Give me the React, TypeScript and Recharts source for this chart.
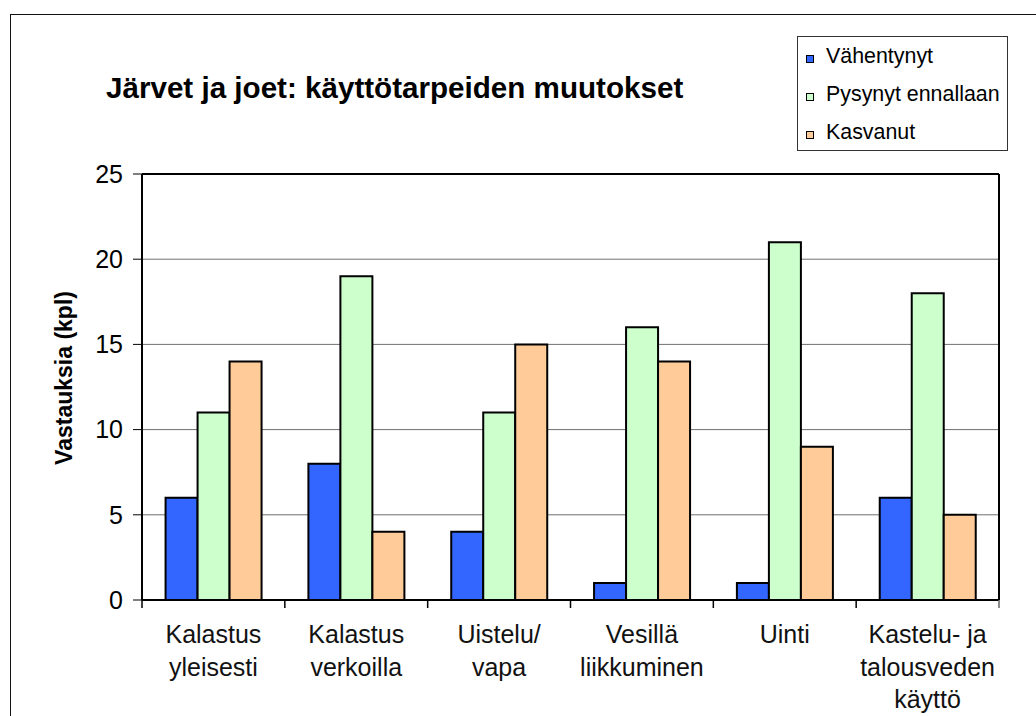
import React from 'react';
import { BarChart, Bar, XAxis, YAxis, CartesianGrid, ReferenceLine } from 'recharts';

const categories = [
  'Kalastus\nyleisesti',
  'Kalastus\nverkoilla',
  'Uistelu/\nvapa',
  'Vesillä\nliikkuminen',
  'Uinti',
  'Kastelu- ja\ntalousveden\nkäyttö',
];
const vahentynyt = [6, 8, 4, 1, 1, 6];
const pysynyt = [11, 19, 11, 16, 21, 18];
const kasvanut = [14, 4, 15, 14, 9, 5];
const yTicks = [0, 5, 10, 15, 20, 25];
const seriesNames = ['Vähentynyt', 'Pysynyt ennallaan', 'Kasvanut'];
const seriesColors = ['#3366FF', '#CCFFCC', '#FFCC99'];
const title = 'Järvet ja joet: käyttötarpeiden muutokset';
const yLabel = 'Vastauksia (kpl)';

const data = categories.map((c, i) => ({
  name: c,
  v: vahentynyt[i],
  p: pysynyt[i],
  k: kasvanut[i],
}));

const FONT = '"Liberation Sans", Arial, sans-serif';

const CategoryTick = (props: any) => {
  const { x, y, payload, index } = props;
  const off = payload.offset || 0;
  const lines = String(payload.value).split('\n');
  return (
    <g>
      <line x1={x - off} x2={x - off} y1={y} y2={y + 8} stroke="#000" strokeWidth={1.5} />
      {index === categories.length - 1 && (
        <line x1={x + off} x2={x + off} y1={y} y2={y + 8} stroke="#666" strokeWidth={1.5} />
      )}
      <text x={x} y={y + 43} textAnchor="middle" fontSize={25} fontFamily={FONT} fill="#111">
        {lines.map((l, i) => (
          <tspan key={i} x={x} dy={i === 0 ? 0 : 32.5}>
            {l}
          </tspan>
        ))}
      </text>
    </g>
  );
};

const YLabel = () => (
  <text
    x={72}
    y={378}
    transform="rotate(-90, 72, 378)"
    textAnchor="middle"
    fontSize={23}
    fontWeight="bold"
    fontFamily={FONT}
    fill="#000"
  >
    {yLabel}
  </text>
);

export default function App() {
  return (
    <div style={{ position: 'absolute', left: 0, top: 0, width: 1036, height: 716, background: '#fff', fontFamily: FONT, overflow: 'hidden' }}>
      <div style={{ position: 'absolute', left: 10, top: 14, width: 1040, height: 720, borderLeft: '1.5px solid #111', borderTop: '1.5px solid #111' }} />
      <div style={{ position: 'absolute', left: 106, top: 73, fontSize: 29.6, lineHeight: '30px', fontWeight: 'bold', color: '#000', whiteSpace: 'nowrap' }}>
        {title}
      </div>
      <div style={{ position: 'absolute', left: 797, top: 36, width: 209, height: 113, border: '1px solid #333', background: '#fff' }}>
        {seriesNames.map((n, i) => (
          <div key={n} style={{ position: 'absolute', left: 0, top: 7 + i * 38, height: 24, whiteSpace: 'nowrap' }}>
            <div style={{ position: 'absolute', left: 8, top: 11, width: 6, height: 6, background: seriesColors[i], border: '1px solid #000' }} />
            <span style={{ position: 'absolute', left: 28, top: 0, fontSize: 21.4, lineHeight: '24px', color: '#000' }}>{n}</span>
          </div>
        ))}
      </div>
      <div style={{ position: 'absolute', left: 0, top: 0 }}>
        <BarChart
          width={1036}
          height={716}
          data={data}
          margin={{ top: 174, right: 36, bottom: 16, left: 10 }}
          barCategoryGap="16.5%"
          barGap={0}
        >
          <CartesianGrid vertical={false} stroke="#707070" strokeWidth={1} />
          <XAxis
            dataKey="name"
            height={100}
            tickLine={false}
            tickSize={0}
            tickMargin={0}
            axisLine={{ stroke: '#000', strokeWidth: 2 }}
            tick={<CategoryTick />}
            interval={0}
          />
          <YAxis
            width={132}
            domain={[0, 25]}
            ticks={yTicks}
            allowDecimals={false}
            tickSize={9}
            tickMargin={10}
            tickLine={{ stroke: '#000', strokeWidth: 1 }}
            axisLine={{ stroke: '#000', strokeWidth: 2 }}
            tick={{ fontSize: 25, fontFamily: FONT, fill: '#000' }}
            label={<YLabel />}
          />
          <YAxis
            yAxisId="r"
            orientation="right"
            width={1}
            tick={false}
            tickLine={false}
            axisLine={{ stroke: '#000', strokeWidth: 2 }}
          />
          <ReferenceLine y={25} stroke="#000" strokeWidth={2} />
          <Bar dataKey="v" name={seriesNames[0]} fill={seriesColors[0]} stroke="#000" strokeWidth={2} isAnimationActive={false} />
          <Bar dataKey="p" name={seriesNames[1]} fill={seriesColors[1]} stroke="#000" strokeWidth={2} isAnimationActive={false} />
          <Bar dataKey="k" name={seriesNames[2]} fill={seriesColors[2]} stroke="#000" strokeWidth={2} isAnimationActive={false} />
        </BarChart>
      </div>
    </div>
  );
}
